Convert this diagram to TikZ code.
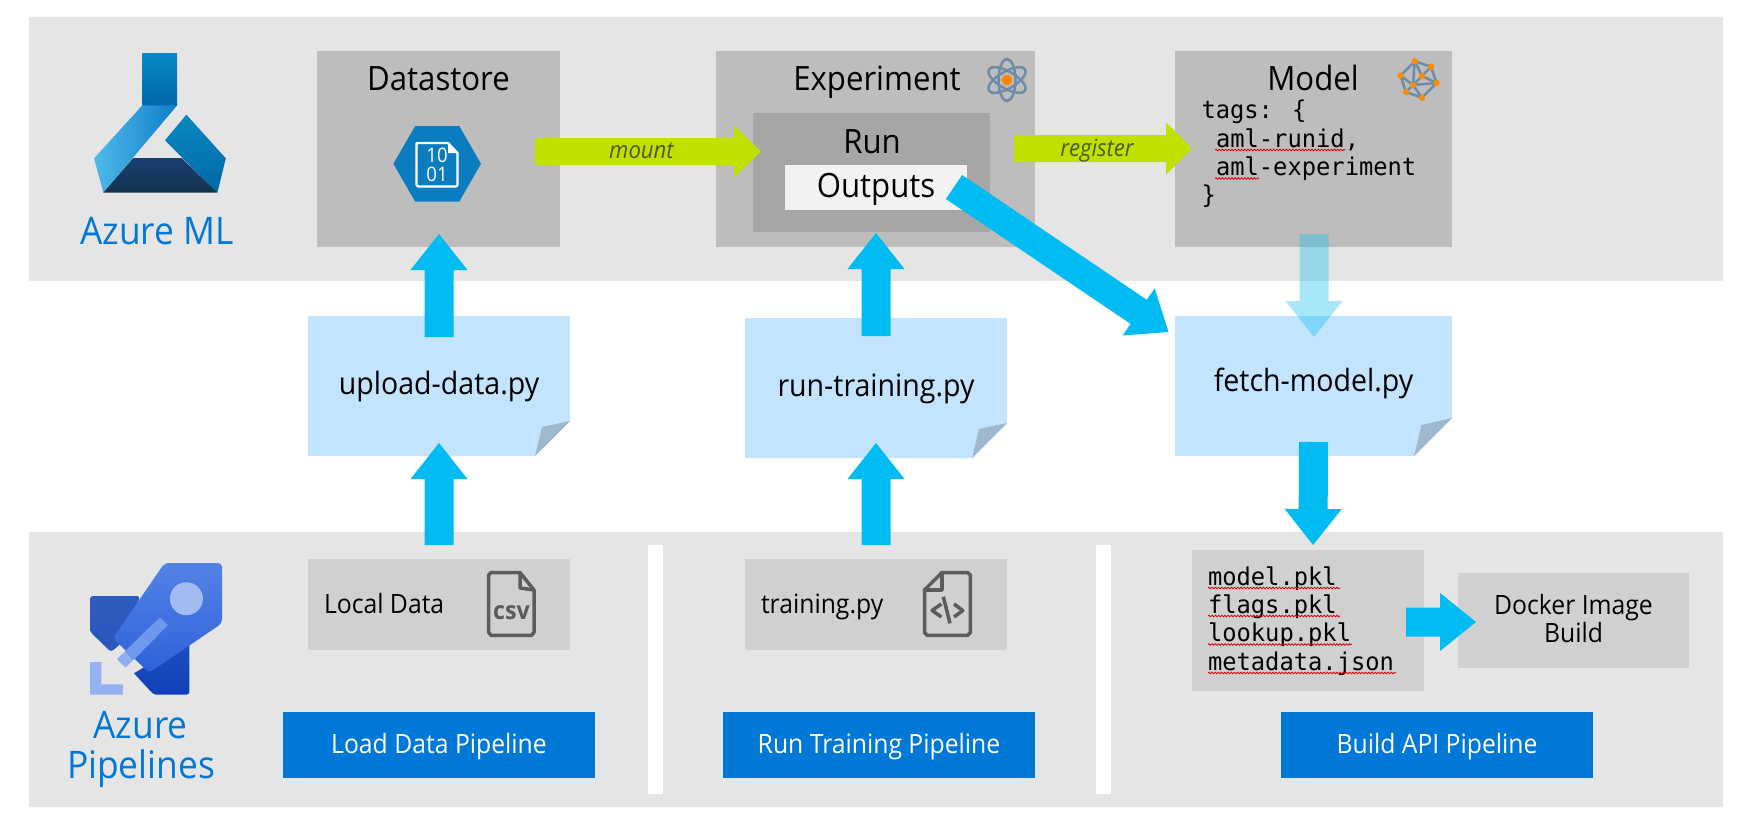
\documentclass[tikz,border=0pt]{standalone}
\usepackage{fontspec}
\setmainfont[FakeStretch=0.93]{Open Sans}
\newfontfamily\codefont[FakeStretch=0.97]{DejaVu Sans Mono}
\usetikzlibrary{calc,decorations.pathmorphing}
\definecolor{band}{HTML}{E5E5E5}
\definecolor{boxgray}{HTML}{BDBDBD}
\definecolor{rungray}{HTML}{A6A6A6}
\definecolor{lowgray}{HTML}{D0D0D0}
\definecolor{outgray}{HTML}{F2F2F2}
\definecolor{notecol}{HTML}{C2E4FF}
\definecolor{foldcol}{HTML}{9FB8CE}
\definecolor{cyanarrow}{HTML}{00BCF2}
\definecolor{limearrow}{HTML}{C0E000}
\definecolor{msblue}{HTML}{0078D7}
\definecolor{iconslate}{HTML}{6E8CA8}
\definecolor{icondot}{HTML}{FF8C00}
\definecolor{icongray}{HTML}{5C5C5C}
\definecolor{hexblue}{HTML}{0A7CC0}
\definecolor{labelolive}{HTML}{4F5A22}
\definecolor{neckA}{HTML}{0A88C8}
\definecolor{neckB}{HTML}{0068A8}
\definecolor{wingA}{HTML}{4FB9E9}
\definecolor{wingB}{HTML}{0E7FCC}
\definecolor{wingC}{HTML}{0A88C0}
\definecolor{wingD}{HTML}{0068A8}
\definecolor{darkA}{HTML}{1B3E72}
\definecolor{darkB}{HTML}{12344F}
\definecolor{rockA}{HTML}{2F5CC0}
\definecolor{rockB}{HTML}{2A55BE}
\definecolor{rockC}{HTML}{1F50C0}
\definecolor{rockD}{HTML}{1040B8}
\definecolor{rockE}{HTML}{5382E6}
\definecolor{rockF}{HTML}{2E62DA}
\definecolor{rockW}{HTML}{A2BCF2}
\definecolor{rockS}{HTML}{6F97EE}
\definecolor{rockT}{HTML}{8FB0F0}
\definecolor{rockL}{HTML}{94B2F2}
\tikzset{
  rect/.style={rectangle,inner sep=0pt,outer sep=0pt,draw=none},
  bandbox/.style={rect,fill=band},
  divider/.style={rect,fill=white},
  topbox/.style={rect,fill=boxgray},
  lowbox/.style={rect,fill=lowgray},
  button/.style={rect,fill=msblue},
  txt/.style={anchor=base,inner sep=0pt,outer sep=0pt,text=#1},
  txt/.default=black,
  big/.style={font=\fontsize{33.5}{40}\selectfont},
  huge/.style={font=\fontsize{38}{44}\selectfont},
  mid/.style={font=\fontsize{30.7}{36}\selectfont},
  small/.style={font=\fontsize{26.6}{32}\selectfont},
  code/.style={font=\codefont\fontsize{24.5}{28}\selectfont},
  tag/.style={font=\itshape\fontsize{23.8}{28}\selectfont},
  wavy/.style={draw=red!85!black,line width=.8pt,decorate,decoration={snake,amplitude=.8pt,segment length=3.2pt}},
  cyanfill/.style={fill=cyanarrow},
  limefill/.style={fill=limearrow},
  icon/.style={draw=icongray,line width=3.5pt,line join=round,line cap=round},
}
% block arrow from #2 to #3; #4 half shaft, #5 half head, #6 head length
\newcommand{\blockarrow}[6][cyanfill]{%
  \coordinate (BA) at (#2);\coordinate (BB) at (#3);
  \coordinate (BH) at ($(BB)!#6pt!(BA)$);
  \fill[#1] ($(BA)!#4pt!90:(BB)$) -- ($(BH)!#4pt!-90:(BA)$) -- ($(BH)!#5pt!-90:(BA)$) -- (BB)
    -- ($(BH)!#5pt!90:(BA)$) -- ($(BH)!#4pt!90:(BA)$) -- ($(BA)!#4pt!-90:(BB)$) -- cycle;}
\begin{document}
\begin{tikzpicture}[x=1pt,y=-1pt]
\useasboundingbox (0,0) rectangle (1751,831);
% bands
\node[bandbox,minimum width=1694pt,minimum height=264pt] (mlband) at (876,149) {};
\node[bandbox,minimum width=1694pt,minimum height=275pt] (pipeband) at (876,669.5) {};
\node[divider,minimum width=15pt,minimum height=249pt] (div1) at (655.5,669.5) {};
\node[divider,minimum width=15pt,minimum height=249pt] (div2) at (1103.5,669.5) {};
% top boxes
\node[topbox,minimum width=243pt,minimum height=196pt] (datastore) at (438.5,149) {};
\node[topbox,minimum width=319pt,minimum height=196pt] (experiment) at (875.5,149) {};
\node[rect,fill=rungray,minimum width=237pt,minimum height=119pt] (run) at (871.5,172.5) {};
\node[rect,fill=outgray,minimum width=182pt,minimum height=45pt] (outputs) at (876,187.5) {};
\node[topbox,minimum width=277pt,minimum height=196pt] (model) at (1313.5,149) {};
\node[txt,big] (dstxt) at (438.5,90) {Datastore};
\node[txt,big] (exptxt) at (877,90) {Experiment};
\node[txt,big] (runtxt) at (872,153.5) {Run};
\node[txt,big] (outtxt) at (876,197.5) {Outputs};
\node[txt,big] (modtxt) at (1313,90) {Model};
\node[txt,code,anchor=base west] (tagsa) at (1201.5,118) {tags: \{};
\node[txt,code,anchor=base west] (tagsb) at (1216,147) {aml-runid,};
\node[txt,code,anchor=base west] (tagsc) at (1216,175) {aml-experiment};
\node[txt,code,anchor=base west] (tagsd) at (1201.5,203.5) {\}};
\draw[wavy] (1215,150) -- (1345,150);
\draw[wavy] (1215,178.5) -- (1259,178.5);
% notes
\node[rect,minimum width=262pt,minimum height=140pt] (upload) at (439,386) {};
\node[rect,minimum width=262pt,minimum height=140pt] (runpy) at (876,388) {};
\node[rect,minimum width=277pt,minimum height=140pt] (fetch) at (1313.5,386) {};
\fill[notecol] (308,316) -- (570,316) -- (570,421) -- (535,456) -- (308,456) -- cycle;
\fill[foldcol] (570,421) -- (542,427) -- (535,456) -- cycle;
\fill[notecol] (745,318) -- (1007,318) -- (1007,423) -- (972,458) -- (745,458) -- cycle;
\fill[foldcol] (1007,423) -- (979,429) -- (972,458) -- cycle;
\fill[notecol] (1175,316) -- (1452,316) -- (1452,418) -- (1414,456) -- (1175,456) -- cycle;
\fill[foldcol] (1452,418) -- (1421.5,425) -- (1414,456) -- cycle;
\node[txt,mid] (uptxt) at (439,394) {upload-data.py};
\node[txt,mid] (runpytxt) at (876,396) {run-training.py};
\node[txt,mid] (fetchtxt) at (1313.5,391.5) {fetch-model.py};
% lower boxes
\node[lowbox,minimum width=262pt,minimum height=91pt] (local) at (439,604.5) {};
\node[lowbox,minimum width=262pt,minimum height=91pt] (training) at (876,604.5) {};
\node[lowbox,minimum width=232pt,minimum height=141pt] (files) at (1308,620.5) {};
\node[lowbox,minimum width=231pt,minimum height=95pt] (docker) at (1573.5,620.5) {};
\node[txt,small,anchor=base west] (localtxt) at (324,613.5) {Local Data};
\node[txt,small,anchor=base west] (traintxt) at (761,613.5) {training.py};
\node[txt,code,anchor=base west] (f1) at (1208,585) {model.pkl};
\node[txt,code,anchor=base west] (f2) at (1208,613) {flags.pkl};
\node[txt,code,anchor=base west] (f3) at (1208,641.5) {lookup.pkl};
\node[txt,code,anchor=base west] (f4) at (1208,670) {metadata.json};
\draw[wavy] (1208,588) -- (1340,588);
\draw[wavy] (1208,616) -- (1340,616);
\draw[wavy] (1208,644.5) -- (1352,644.5);
\draw[wavy] (1208,673) -- (1396,673);
\node[txt,small] (dock1) at (1573.5,614) {Docker Image};
\node[txt,small] (dock2) at (1573.5,642.5) {Build};
% buttons
\node[button,minimum width=312pt,minimum height=66pt] (btnload) at (439,745) {};
\node[button,minimum width=312pt,minimum height=66pt] (btnrun) at (879,745) {};
\node[button,minimum width=312pt,minimum height=66pt] (btnbuild) at (1437,745) {};
\node[txt=white,small] (btnloadt) at (439,753.5) {Load Data Pipeline};
\node[txt=white,small] (btnrunt) at (879,753.5) {Run Training Pipeline};
\node[txt=white,small] (btnbuildt) at (1437,753.5) {Build API Pipeline};
% logos labels
\node[txt=msblue,huge] (azml) at (157,244) {Azure ML};
\node[txt=msblue,huge] (azp1) at (140.5,738.5) {Azure};
\node[txt=msblue,huge] (azp2) at (141,778) {Pipelines};
% Azure ML flask
\shade[top color=neckA,bottom color=neckB] (142.4,53) rectangle (177.2,105.3);
\shade[left color=wingA,right color=wingB] (142.4,105.3) -- (177.2,105.3) -- (103.3,192.7) -- (94.1,158.3) -- cycle;
\shade[top color=wingC,bottom color=wingD] (186.4,114.7) -- (225.8,158.3) -- (217.4,192.7) -- (165,140.3) -- cycle;
\shade[top color=darkA,bottom color=darkB] (133.2,158) -- (181.8,158) -- (217.4,192.7) -- (103.3,192.7) -- cycle;
% Pipelines rocket
\shade[top color=rockA,bottom color=rockB,rounded corners=3pt] (90,596) -- (140,596) -- (125,640) -- (111,652) -- (90,631.7) -- cycle;
\shade[top color=rockC,bottom color=rockD] (189.4,640) -- (189.4,690) [rounded corners=3pt] -- (189.4,694.7) -- (153.8,694.7) [sharp corners] -- (134,673.3) -- cycle;
\shade[top color=rockE,bottom color=rockF,rounded corners=4pt] (164.6,563) -- (222,563) -- (222,623.3) -- (149.2,672.7) -- (112.9,638.3) -- cycle;
\fill[rockW] (186.4,598.7) ellipse [x radius=16.5pt,y radius=16.5pt];
\fill[rockT] (160,617.7) -- (167.6,625) -- (125.5,667.7) -- (117,659) -- cycle;
\fill[rockS] (160,617.7) -- (167.6,625) -- (133,660) -- (125,651.5) -- cycle;
\fill[rockL] (90,662) -- (101.4,662) -- (101.4,684.3) -- (122.8,684.3) -- (122.8,694.7) -- (90,694.7) -- cycle;
% datastore hex icon
\fill[hexblue] (393.4,163.7) -- (415.2,126) -- (459.2,126) -- (481,163.7) -- (459.2,201.7) -- (415.2,201.7) -- cycle;
\draw[white,line width=2.2pt,line join=round] (416.5,145) [rounded corners=2pt] -- (416.5,186.5) -- (457.5,186.5) [sharp corners] -- (457.5,153) -- (448,143) [rounded corners=2pt] -- (416.5,143) -- cycle;
\fill[white] (448,143) -- (448,153) -- (457.5,153) -- cycle;
\node[txt=white,font=\fontsize{20}{24}\selectfont] (hex10) at (437,162.5) {10};
\node[txt=white,font=\fontsize{20}{24}\selectfont] (hex01) at (437,181) {01};
% atom icon
\begin{scope}[draw=iconslate,line width=2.5pt]
\draw (1007,80) ellipse [x radius=8.5pt,y radius=21pt];
\draw[rotate around={60:(1007,80)}] (1007,80) ellipse [x radius=8.5pt,y radius=21pt];
\draw[rotate around={-60:(1007,80)}] (1007,80) ellipse [x radius=8.5pt,y radius=21pt];
\end{scope}
\fill[icondot] (1007,80) circle [radius=5.5pt];
% mesh icon
\foreach \n/\x/\y in {a/1414.7/61.3,b/1431/66.7,c/1400.5/75.7,d/1422/76,e/1436.5/83,f/1413/85,g/1406/92,h/1422/97.7}{\coordinate (m\n) at (\x,\y);}
\draw[iconslate,line width=2.5pt,line join=round] (ma)--(mb)--(me)--(mh)--(mg)--(mc)--cycle (ma)--(md)--(mb) (md)--(me) (md)--(mf) (mc)--(mf)--(me) (mf)--(mg) (mf)--(mh) (ma)--(mf);
\foreach \n in {a,b,c,d,e,f,g,h}{\fill[icondot] (m\n) circle [radius=3.2pt];}
% csv icon
\draw[icon] (488.7,575) -- (488.7,632.5) -- (491,635.3) -- (531.5,635.3) -- (534,632.5) -- (534,590) -- (520,572.5) -- (491,572.5) -- cycle;
\draw[icon] (520,572.5) -- (520,588) -- (534,590);
\node[txt=icongray,font=\bfseries\fontsize{25}{28}\selectfont] (csvt) at (511.5,619) {csv};
% code icon
\draw[icon] (924.5,590) -- (924.5,632.5) -- (927,635.3) -- (967.5,635.3) -- (970.4,632.5) -- (970.4,575) -- (967.5,572.5) -- (942,572.5) -- cycle;
\draw[icon] (942,572.5) -- (942,590) -- (924.5,590);
\draw[icon,line cap=butt] (941.4,604) -- (932,610.5) -- (941.4,617);
\draw[icon,line cap=butt] (954,604) -- (962.8,610.5) -- (954,617);
\draw[icon,line cap=butt] (943.3,596.7) -- (950,623.3);
% connectors
\coordinate (a1s) at ($(local.north)+(0,-14)$);
\coordinate (a1e) at ($(upload.south)+(0,-13)$);
\coordinate (a2s) at ($(upload.north)+(0,21)$);
\coordinate (a2e) at ($(datastore.south)+(0.5,-13)$);
\coordinate (a3s) at ($(training.north)+(0,-14)$);
\coordinate (a3e) at ($(runpy.south)+(0,-15)$);
\coordinate (a4s) at ($(runpy.north)+(0,18)$);
\coordinate (a4e) at ($(experiment.south)+(0.5,-14)$);
\coordinate (a5s) at ($(model.south)+(0.5,-13)$);
\coordinate (a5e) at ($(fetch.north)+(0.5,21)$);
\coordinate (a6s) at ($(fetch.south)+(0,-14)$);
\coordinate (a6e) at ($(files.north)+(5,-5)$);
\coordinate (a7s) at ($(outputs.east)+(-13,-0.5)$);
\coordinate (a7e) at ($(fetch.north west)+(-6.5,16)$);
\coordinate (a8s) at ($(files.east)+(-18,1.5)$);
\coordinate (a8e) at ($(docker.west)+(18,1.5)$);
\coordinate (m1s) at ($(datastore.east)+(-25,2.5)$);
\coordinate (m1e) at ($(run.west)+(8,-21)$);
\coordinate (m2s) at ($(experiment.east)+(-21,-0.5)$);
\coordinate (m2e) at ($(model.west)+(17,-0.5)$);
\blockarrow[limefill]{m1s}{m1e}{13.5}{26}{27}
\blockarrow[limefill]{m2s}{m2e}{13.5}{26}{26}
\blockarrow{a1s}{a1e}{14.5}{28.5}{36}
\blockarrow{a2s}{a2e}{14.5}{28.5}{36}
\blockarrow{a3s}{a3e}{14.5}{28.5}{36}
\blockarrow{a4s}{a4e}{14.5}{28.5}{36}
\blockarrow[cyanfill,fill opacity=.35]{a5s}{a5e}{14.5}{28.5}{36}
\blockarrow{a6s}{a6e}{14.5}{28.5}{36}
\blockarrow{a7s}{a7e}{14.5}{28.5}{36}
\blockarrow{a8s}{a8e}{14.5}{29}{36}
\node[txt=labelolive,tag] (mounttxt) at (641.5,158.5) {mount};
\node[txt=labelolive,tag] (regtxt) at (1097,156) {register};
\end{tikzpicture}
\end{document}
